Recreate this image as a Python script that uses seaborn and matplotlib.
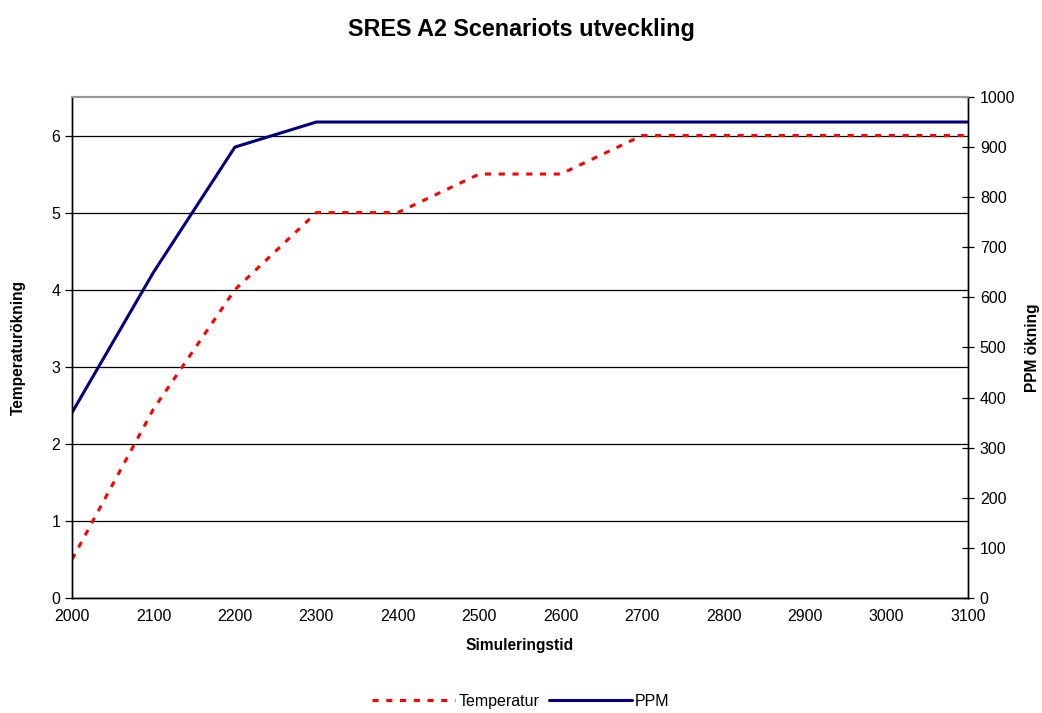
import matplotlib
matplotlib.use("Agg")
import matplotlib.pyplot as plt
import seaborn as sns
import pandas as pd

years = [2000, 2100, 2200, 2300, 2400, 2500, 2600, 2700, 2800, 2900, 3000, 3100]
temperatur = [0.5, 2.45, 4.0, 5.0, 5.0, 5.5, 5.5, 6.0, 6.0, 6.0, 6.0, 6.0]
ppm = [370, 650, 900, 950, 950, 950, 950, 950, 950, 950, 950, 950]

sns.set_style("white")
plt.rcParams['font.family'] = ['Liberation Sans', 'DejaVu Sans']
plt.rcParams['text.color'] = 'black'
plt.rcParams['axes.labelcolor'] = 'black'

df = pd.DataFrame({"year": years, "Temperatur": temperatur, "PPM": ppm})

fig = plt.figure(figsize=(10.42, 7.13), dpi=100)
ax = fig.add_axes([0.0691, 0.1613, 0.8599, 0.7027])
ax2 = ax.twinx()

sns.lineplot(data=df, x="year", y="Temperatur", ax=ax, color="#ff0000",
             linewidth=2.2, linestyle=(0, (2, 2.5)), label="Temperatur", legend=False)
sns.lineplot(data=df, x="year", y="PPM", ax=ax2, color="#000080",
             linewidth=2.2, label="PPM", legend=False)

ax.set_xlim(2000, 3100)
ax.set_ylim(0, 6.5)
ax2.set_ylim(0, 1000)
ax.set_xticks(years)
ax.set_yticks(range(0, 7))
ax2.set_yticks(range(0, 1001, 100))
ax.yaxis.grid(True, color="black", linewidth=0.9)
ax.xaxis.grid(False)
ax.set_axisbelow(True)

for a in (ax, ax2):
    for s in ("left", "right", "bottom"):
        a.spines[s].set_color("black")
        a.spines[s].set_linewidth(1.0)
    a.spines["top"].set_color("#999999")
    a.spines["top"].set_linewidth(1.5)

fs = 11.5
ax.tick_params(axis="x", direction="out", length=5, width=0.9, labelsize=fs, colors="black", pad=3)
ax.tick_params(axis="y", direction="out", length=5, width=0.9, labelsize=fs, colors="black", left=True)
ax2.tick_params(axis="y", direction="inout", length=9, width=0.9, labelsize=fs, colors="black", right=True, pad=4)

ax.set_xlabel("Simuleringstid", fontsize=11.2, fontweight="bold", labelpad=10, color="black")
ax.set_ylabel("Temperaturökning", fontsize=11.2, fontweight="bold", color="black")
ax.yaxis.set_label_coords(-46 / 896, 0.5)
ax2.set_ylabel("PPM ökning", fontsize=11.2, fontweight="bold", color="black")
ax2.yaxis.set_label_coords(1 + 57 / 896, 0.5)

fig.suptitle("SRES A2 Scenariots utveckling", fontsize=16.8, fontweight="bold", y=0.975, color="black")

h1, l1 = ax.get_legend_handles_labels()
h2, l2 = ax2.get_legend_handles_labels()
leg = fig.legend(h1 + h2, l1 + l2, loc="lower center", bbox_to_anchor=(0.5, -0.014), ncol=2,
                 frameon=False, fontsize=fs, handlelength=5.2, handletextpad=0.2, columnspacing=0.6)
for t in leg.get_texts():
    t.set_color("black")

fig.savefig("out.png", dpi=100)
